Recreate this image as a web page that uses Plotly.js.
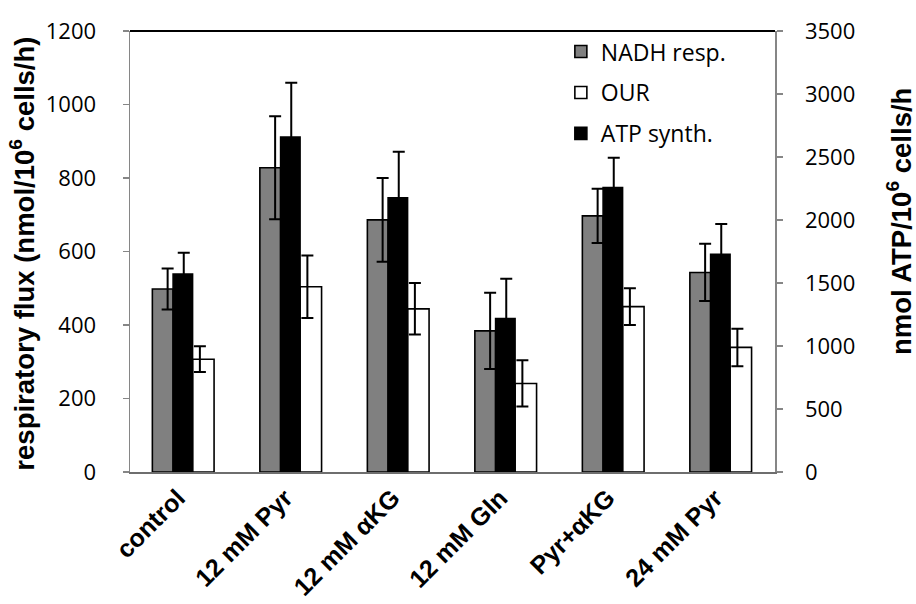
<!DOCTYPE html>
<html>
<head>
<meta charset="utf-8">
<script src="https://cdn.plot.ly/plotly-3.0.1.min.js"></script>
<style>html,body{margin:0;padding:0;background:#fff;}#chart{width:916px;height:604px;}</style>
</head>
<body>
<div id="chart"></div>
<script>
const categories = ["control", "12 mM Pyr", "12 mM αKG", "12 mM Gln", "Pyr+αKG", "24 mM Pyr"];
const nadhResp = [498, 828, 686, 384, 697, 543];
const nadhErr = [56, 140, 114, 104, 74, 78];
const ourVals = [307, 504, 444, 241, 450, 339];
const ourErr = [35, 85, 70, 63, 50, 51];
const atpSynth = [1571, 2659, 2177, 1217, 2257, 1728];
const atpErr = [170, 431, 365, 317, 238, 240];
const leftTicks = [0, 200, 400, 600, 800, 1000, 1200];
const rightTicks = [0, 500, 1000, 1500, 2000, 2500, 3000, 3500];

const barLine = {color: "#000", width: 1.6};
const errStyle = (arr) => ({type: "data", array: arr, visible: true, color: "#000", thickness: 2, width: 6});
const clear = {color: "rgba(0,0,0,0)", line: {width: 0}};

const traces = [
  {type: "bar", name: "NADH resp.", x: categories, y: nadhResp, yaxis: "y",
   offset: -0.292, width: 0.193, marker: {color: "#808080", line: barLine},
   legendgroup: "a", hoverinfo: "skip"},
  {type: "bar", name: "OUR", x: categories, y: ourVals, yaxis: "y",
   offset: 0.082, width: 0.2, marker: {color: "#ffffff", line: barLine},
   legendgroup: "b", hoverinfo: "skip"},
  {type: "bar", name: "NADH err", x: categories, y: nadhResp, yaxis: "y",
   offset: -0.25, width: 0.2, marker: clear, error_y: errStyle(nadhErr),
   showlegend: false, hoverinfo: "skip"},
  {type: "bar", name: "OUR err", x: categories, y: ourVals, yaxis: "y",
   offset: 0.05, width: 0.2, marker: clear, error_y: errStyle(ourErr),
   showlegend: false, hoverinfo: "skip"},
  {type: "bar", name: "ATP synth.", x: categories, y: atpSynth, yaxis: "y2",
   offset: -0.099, width: 0.181, marker: {color: "#000000", line: barLine},
   legendgroup: "c", hoverinfo: "skip"},
  {type: "bar", name: "ATP err", x: categories, y: atpSynth, yaxis: "y2",
   offset: -0.1, width: 0.2, marker: clear, error_y: errStyle(atpErr),
   showlegend: false, hoverinfo: "skip"}
];

const tickFont = {family: "Open Sans, sans-serif", size: 22, color: "#000"};
const titleFont = {family: "Liberation Sans, Arial, sans-serif", size: 27.5, color: "#000", weight: "bold"};

const layout = {
  width: 916, height: 604,
  margin: {l: 130, r: 141, t: 31, b: 132, pad: 0},
  paper_bgcolor: "#fff", plot_bgcolor: "#fff",
  barmode: "overlay",
  showlegend: true,
  legend: {x: 0.668, y: 1.002, xanchor: "left", yanchor: "top",
           font: {family: "Open Sans, sans-serif", size: 23, color: "#000"},
           bgcolor: "rgba(0,0,0,0)", traceorder: "grouped", tracegroupgap: 8},
  xaxis: {type: "category", showline: true, linecolor: "#6e6e6e", linewidth: 1.5,
          ticks: "", showgrid: false, tickangle: -45, ticklabelstandoff: 0, ticklabelshift: -6,
          tickfont: {family: "Liberation Sans, Arial, sans-serif", size: 25, color: "#000", weight: "bold"},
          range: [-0.5, 5.5], zeroline: false},
  yaxis: {range: [0, 1200], tickvals: leftTicks, showgrid: false, zeroline: false,
          showline: true, linecolor: "#868686", linewidth: 1.5,
          ticks: "outside", ticklen: 6, tickcolor: "#868686", tickwidth: 1.5,
          ticklabelstandoff: 22, tickfont: tickFont},
  yaxis2: {range: [0, 3500], tickvals: rightTicks, overlaying: "y", side: "right",
           showgrid: false, zeroline: false,
           showline: true, linecolor: "#868686", linewidth: 1.5,
           ticks: "outside", ticklen: 6, tickcolor: "#868686", tickwidth: 1.5,
           ticklabelstandoff: 18, tickfont: tickFont},
  shapes: [{type: "line", xref: "paper", yref: "paper", x0: 0, x1: 1, y0: 1, y1: 1,
            line: {color: "#000", width: 2}}],
  annotations: [
    {text: "respiratory flux (nmol/10<sup>6</sup> cells/h)", xref: "paper", yref: "paper",
     x: -0.166, y: 0.495, xanchor: "center", yanchor: "middle", textangle: -90,
     showarrow: false, font: titleFont},
    {text: "nmol ATP/10<sup>6</sup> cells/h", xref: "paper", yref: "paper",
     x: 1.194, y: 0.567, xanchor: "center", yanchor: "middle", textangle: -90,
     showarrow: false, font: titleFont}
  ]
};

Plotly.newPlot("chart", traces, layout, {displayModeBar: false, staticPlot: true});
</script>
</body>
</html>
